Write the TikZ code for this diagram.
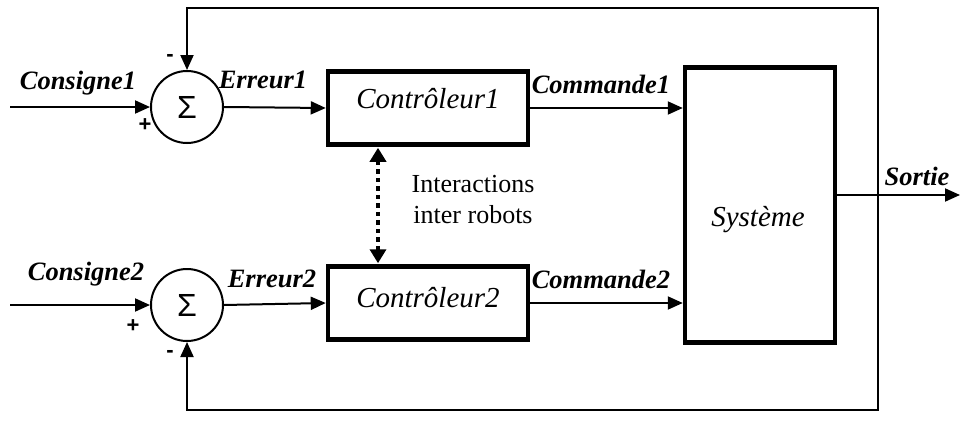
\documentclass[tikz,border=0pt]{standalone}
\usepackage{fontspec}
\setmainfont{Liberation Serif}
\newfontfamily\sumfont{Liberation Sans}
\usetikzlibrary{arrows.meta}
\begin{document}
\begin{tikzpicture}[x=1pt,y=-1pt,
  sig/.style={draw,line width=2pt,-{Triangle[length=15pt,width=13pt]}},
  blk/.style={draw,line width=4.5pt,minimum width=200pt,minimum height=73pt,inner sep=0pt},
  blktxt/.style={font=\fontsize{29}{32}\selectfont\itshape,inner sep=0pt},
  sumnode/.style={draw,circle,line width=2pt,minimum size=72pt,inner sep=0pt,font=\sumfont\fontsize{32}{34}\selectfont},
  lbl/.style={font=\fontsize{26.5}{30}\selectfont\bfseries\itshape,inner sep=0pt},
  sgn/.style={font=\sumfont\fontsize{22}{24}\selectfont\bfseries,inner sep=0pt},
  dotarrow/.style={draw,line width=4.5pt,dash pattern=on 4.5pt off 4pt,{Triangle[length=14pt,width=16pt]}-{Triangle[length=14pt,width=16pt]},shorten <=1pt,shorten >=1pt}
]
\useasboundingbox (0,0) rectangle (960,423);
% nodes
\node[sumnode] (s1) at (187,107) {Σ};
\node[sumnode] (s2) at (187,305) {Σ};
\node[blk] (c1) at (428,108) {};
\node[blk] (c2) at (428,303) {};
\node[draw,line width=4.5pt,minimum width=150pt,minimum height=275pt,inner sep=0pt] (sys) at (760,205) {};
\node[blktxt] (t1) at (428,99) {Contrôleur1};
\node[blktxt] (t2) at (428,298) {Contrôleur2};
\node[blktxt] (ts) at (758,220) {Système};
% coordinates
\coordinate (in1) at (10,107);
\coordinate (in2) at (10,305);
\coordinate (out) at (960,195);
\coordinate (fb) at (878,195);
\coordinate (tr) at (878,8);
\coordinate (br) at (878,410);
% signal arrows
\draw[sig] (in1) -- (s1.west);
\draw[sig] (in2) -- (s2.west);
\draw[sig] (s1.east) -- (c1.west);
\draw[sig] (s2.east) -- (c2.west);
\draw[sig] (c1.east) -- (c1.east -| sys.west);
\draw[sig] (c2.east) -- (c2.east -| sys.west);
\draw[sig] (sys.east |- out) -- (out);
\draw[sig] (fb) -- (tr) -| (s1.north);
\draw[sig] (fb) -- (br) -| (s2.south);
\draw[dotarrow] ([xshift=-50pt]c1.south) -- ([xshift=-50pt]c2.north);
% labels
\node[lbl] (l1) at (78,83) {Consigne1};
\node[lbl] (l2) at (86,274) {Consigne2};
\node[lbl] (e1) at (263,80) {Erreur1};
\node[lbl] (e2) at (272,279) {Erreur2};
\node[lbl] (m1) at (601,84) {Commande1};
\node[lbl] (m2) at (601,279) {Commande2};
\node[lbl] (so) at (917,176) {Sortie};
\node[sgn] (p1) at (145,125) {+};
\node[sgn] (n1) at (170,58) {-};
\node[sgn] (p2) at (133,326) {+};
\node[sgn] (n2) at (170,354) {-};
\node[font=\fontsize{26}{31}\selectfont,align=center,inner sep=0pt] (it) at (473,200) {Interactions\\inter robots};
\end{tikzpicture}
\end{document}
